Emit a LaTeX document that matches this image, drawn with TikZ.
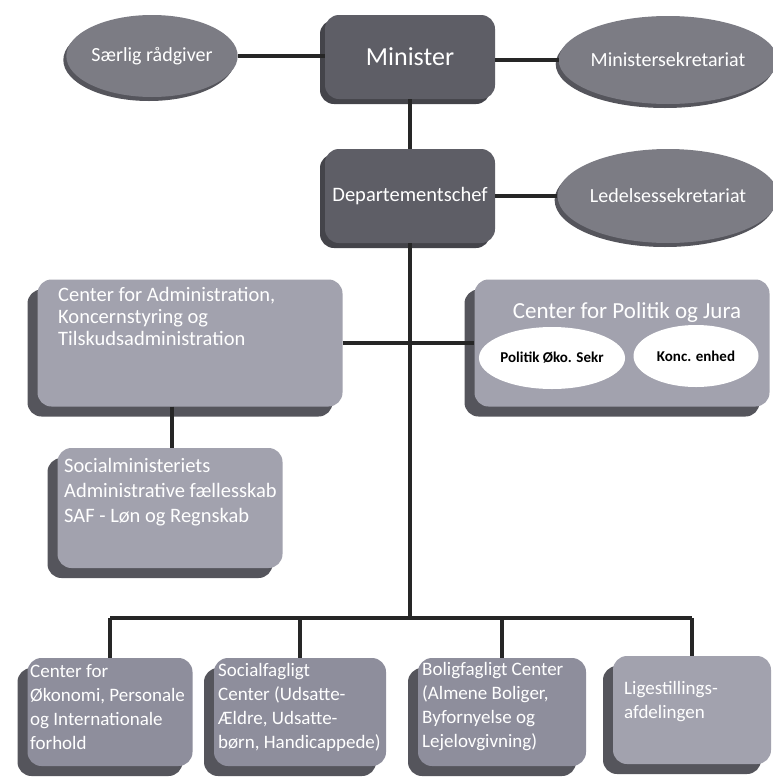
\documentclass[tikz,border=0pt]{standalone}
\usepackage{fontspec}
\setmainfont{Carlito}
\usetikzlibrary{shapes.geometric,shadows}
\definecolor{face}{HTML}{A2A2AE}
\definecolor{faceb}{HTML}{8E8E9C}
\definecolor{shade}{HTML}{55555C}
\definecolor{dark}{HTML}{5E5E66}
\definecolor{ell}{HTML}{7C7C84}
\begin{document}
\begin{tikzpicture}[x=1pt,y=-1pt,
  conn/.style={line width=4pt, draw=black!85},
  box/.style={rounded corners=14pt, fill=face, text=white, inner sep=4pt,
    font=\fontsize{18}{22}\selectfont,
    drop shadow={shadow xshift=-10pt, shadow yshift=-10pt, fill=shade, opacity=1}},
  boxb/.style={box, fill=faceb, minimum height=108pt},
  topbox/.style={rounded corners=14pt, fill=dark, text=white, minimum width=170pt,
    drop shadow={shadow xshift=-5pt, shadow yshift=-5pt, fill=shade!80!black, opacity=1}},
  oval/.style={ellipse, fill=ell, text=white, inner sep=0pt,
    font=\fontsize{20}{22}\selectfont,
    drop shadow={shadow xshift=-3pt, shadow yshift=-4pt, fill=shade, opacity=1}},
  wov/.style={ellipse, fill=white, text=black, inner sep=0pt, minimum width=125pt,
    minimum height=62pt, font=\bfseries\fontsize{15}{17}\selectfont},
  txt/.style={text=white, align=left, inner sep=0pt},
  btxt/.style={txt, anchor=west, font=\fontsize{19}{24}\selectfont}]
\useasboundingbox[fill=white] (0,0) rectangle (772,782);

% top level
\node[topbox, minimum height=84pt, font=\fontsize{26}{30}\selectfont] (min) at (410,57) {Minister};
\node[oval, minimum width=150pt, minimum height=82pt] (sr) at (152,56) {Særlig rådgiver};
\node[oval, minimum width=188pt, minimum height=88pt] (ms) at (668,60) {Ministersekretariat};
\node[topbox, minimum height=94pt, font=\fontsize{20.5}{24}\selectfont] (dep) at (410,196) {Departementschef};
\node[oval, minimum width=188pt, minimum height=94pt] (ls) at (668,196) {Ledelsessekretariat};

% centres
\node[box, minimum width=305pt, minimum height=127pt] (adm) at (190,343) {};
\node[txt, anchor=north west, font=\fontsize{20.5}{22}\selectfont] (admt) at (58,287)
  {Center for Administration,\\Koncernstyring og\\Tilskudsadministration};
\node[box, minimum width=295pt, minimum height=127pt] (pol) at (622,343) {};
\node[txt, font=\fontsize{23}{26}\selectfont] (polt) at (627,312) {Center for Politik og Jura};
\node[wov] (oko) at (552,358) {Politik Øko. Sekr};
\node[wov] (konc) at (696,356) {Konc. enhed};

\node[box, minimum width=225pt, minimum height=120pt] (soc) at (170,508) {};
\node[txt, anchor=north west, font=\fontsize{20.5}{25}\selectfont] (soct) at (64,458)
  {Socialministeriets\\Administrative fællesskab\\SAF - Løn og Regnskab};

% bottom row
\node[boxb, minimum width=165pt] (b1) at (110,712) {};
\node[btxt] (b1t) at (30,707) {Center for\\Økonomi, Personale\\og Internationale\\forhold};
\node[boxb, minimum width=172pt] (b2) at (300,712) {};
\node[btxt] (b2t) at (218,707) {Socialfagligt\\Center (Udsatte-\\Ældre, Udsatte-\\børn, Handicappede)};
\node[boxb, minimum width=168pt] (b3) at (502,712) {};
\node[btxt] (b3t) at (422,707) {Boligfagligt Center\\(Almene Boliger,\\Byfornyelse og\\Lejelovgivning)};
\node[boxb, minimum width=158pt, fill=face] (b4) at (692,710) {};
\node[btxt] (b4t) at (624,702) {Ligestillings-\\afdelingen};

% connectors
\draw[conn] (sr.east) -- (min.west |- sr.east);
\draw[conn] (min.east |- ms.west) -- (ms.west);
\draw[conn] (min.south) -- (dep.north);
\draw[conn] (dep.east) -- (ls.west);
\coordinate (bus) at (410,618);
\draw[conn] (dep.south) -- (bus);
\draw[conn] (adm.east) -- (pol.west);
\draw[conn] (adm.south -| 172,0) -- (soc.north -| 172,0);
\draw[conn] (b1.north |- bus) -- (b4.north |- bus);
\draw[conn] (b1.north |- bus) -- (b1.north);
\draw[conn] (b2.north |- bus) -- (b2.north);
\draw[conn] (b3.north |- bus) -- (b3.north);
\draw[conn] (b4.north |- bus) -- (b4.north);
\end{tikzpicture}
\end{document}
